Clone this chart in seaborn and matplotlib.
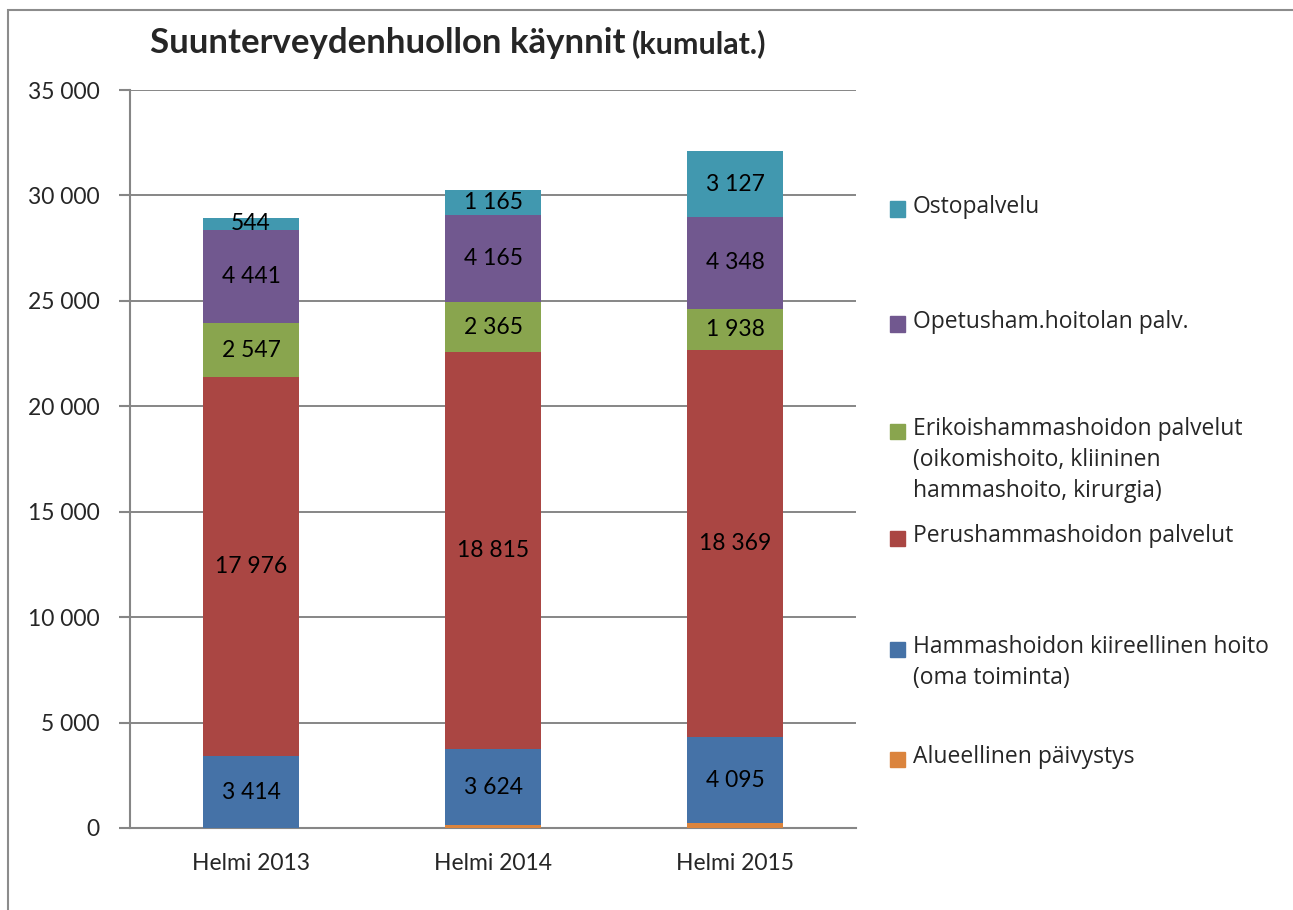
import numpy as np
import matplotlib
matplotlib.use("Agg")
import matplotlib.pyplot as plt
from matplotlib.patches import Rectangle
import seaborn as sns

# data
categories = ["Helmi 2013", "Helmi 2014", "Helmi 2015"]
series_names = [
    "Alueellinen päivystys",
    "Hammashoidon kiireellinen hoito\n(oma toiminta)",
    "Perushammashoidon palvelut",
    "Erikoishammashoidon palvelut\n(oikomishoito, kliininen\nhammashoito, kirurgia)",
    "Opetusham.hoitolan palv.",
    "Ostopalvelu",
]
alueellinen = [0, 120, 225]
kiireellinen = [3414, 3624, 4095]
perus = [17976, 18815, 18369]
erikois = [2547, 2365, 1938]
opetus = [4441, 4165, 4348]
osto = [544, 1165, 3127]
colors = ["#DB843D", "#4572A7", "#AA4643", "#89A54E", "#71588F", "#4198AF"]
y_ticks = [0, 5000, 10000, 15000, 20000, 25000, 30000, 35000]

sns.set_theme(style="white")
plt.rcParams["font.family"] = ["Lato", "DejaVu Sans"]

values = np.array([alueellinen, kiireellinen, perus, erikois, opetus, osto])
tops = values.cumsum(axis=0)
bottoms = tops - values

W, H = 1293, 910
fig = plt.figure(figsize=(W / 100, H / 100), dpi=100)
ax = fig.add_axes([130 / W, 1 - 828 / H, (856 - 130) / W, (828 - 90) / H])

# stacked bars: draw cumulative tops from highest to lowest so each layer shows
for i in range(len(series_names) - 1, -1, -1):
    sns.barplot(x=categories, y=tops[i], color=colors[i], saturation=1,
                width=0.4, ax=ax, zorder=3, linewidth=0)

def fmt(v):
    return f"{v:,}".replace(",", " ")

for i in range(1, len(series_names)):
    for j in range(len(categories)):
        v = values[i, j]
        ax.text(j, bottoms[i, j] + v / 2, fmt(v), ha="center", va="center",
                fontsize=16.5, color="black", zorder=5)

ax.set_xlim(-0.5, 2.5)
ax.set_ylim(0, 35000)
ax.set_yticks(y_ticks)
ax.set_yticklabels([fmt(t) for t in y_ticks], fontsize=16.5)
ax.set_xticks(range(len(categories)))
ax.set_xticklabels(categories, fontsize=16.5)
ax.set_xticks([-0.5, 0.5, 1.5, 2.5], minor=True)
ax.tick_params(axis="x", which="major", length=0, pad=18)
ax.tick_params(axis="x", which="minor", length=7, width=1.5, color="#868686", direction="out")
ax.tick_params(axis="y", which="major", length=8, width=1.5, color="#868686", direction="out", pad=14, left=True)
ax.grid(axis="y", color="#868686", linewidth=1.4, zorder=0)
ax.set_axisbelow(True)
for s in ["top", "right"]:
    ax.spines[s].set_visible(False)
for s in ["left", "bottom"]:
    ax.spines[s].set_color("#868686")
    ax.spines[s].set_linewidth(1.5)
ax.set_xlabel("")
ax.set_ylabel("")

# title in two parts
fig.canvas.draw()
t1 = fig.text(150 / W, 1 - 53 / H, "Suunterveydenhuollon käynnit", fontsize=25,
              fontweight="bold", ha="left", va="baseline")
fig.canvas.draw()
bb = t1.get_window_extent()
fig.text((bb.x1 + 6) / W, 1 - 53 / H, "(kumulat.)", fontsize=22,
         fontweight="bold", ha="left", va="baseline")

# legend drawn to the right
leg_y = [759, 649, 538, 431, 324, 209]
for i, name in enumerate(series_names):
    yc = leg_y[i]
    fig.patches.append(Rectangle((890 / W, 1 - (yc + 7.5) / H), 15 / W, 15 / H,
                                 transform=fig.transFigure, color=colors[i]))
    fig.text(913 / W, 1 - (yc - 14) / H, name, fontsize=16.5, ha="left", va="top",
             family=["Open Sans", "DejaVu Sans"], linespacing=1.4)

# outer frame
fig.patches.append(Rectangle((8 / W, -0.1), 1.2, 1.1 - 10 / H, transform=fig.transFigure,
                             fill=False, edgecolor="#8c8c8c", linewidth=1.5))

fig.savefig("out.png", dpi=100)
